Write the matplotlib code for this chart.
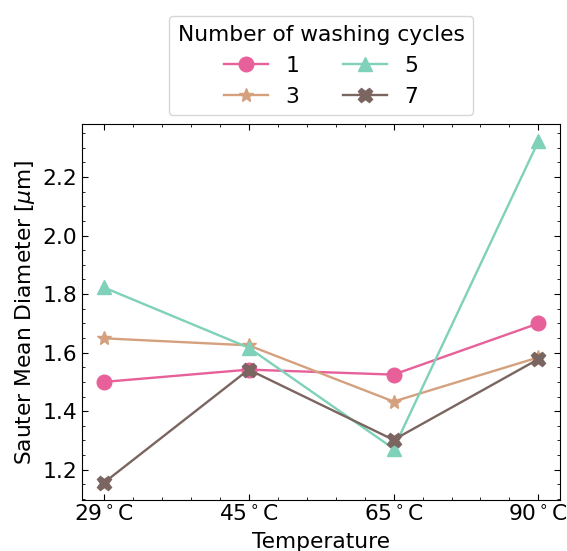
import matplotlib
matplotlib.use('Agg')
from matplotlib import pyplot as plt
from matplotlib.ticker import MultipleLocator

temps = ['29$^\\circ$C', '45$^\\circ$C', '65$^\\circ$C', '90$^\\circ$C']
cycles = ['1', '3', '5', '7']
d1 = [1.50, 1.542, 1.525, 1.70]
d3 = [1.649, 1.625, 1.433, 1.584]
d5 = [1.823, 1.617, 1.272, 2.323]
d7 = [1.155, 1.542, 1.302, 1.578]

colors = ['#e7609a', '#d4a07e', '#7fd1b9', '#7b6560']
markers = ['o', '*', '^', 'X']


def make_plot():
    plt.rcParams['font.size'] = 15.7
    fig = plt.figure(figsize=(5.67, 5.51), dpi=100)
    ax = fig.add_axes([0.1446, 0.0926, 0.8434, 0.6824])
    x = list(range(len(temps)))
    for vals, lab, c, m in zip([d1, d3, d5, d7], cycles, colors, markers):
        ax.plot(x, vals, color=c, marker=m, markersize=10.5, linewidth=1.7, label=lab)
    ax.set_xticks(x)
    ax.set_xticklabels(temps)
    ax.xaxis.set_minor_locator(MultipleLocator(0.2))
    ax.yaxis.set_major_locator(MultipleLocator(0.2))
    ax.yaxis.set_minor_locator(MultipleLocator(0.05))
    ax.tick_params(which='both', direction='in', top=True, right=True)
    ax.tick_params(which='major', length=4)
    ax.tick_params(which='minor', length=2.3)
    ax.set_xlabel('Temperature', labelpad=5)
    ax.set_ylabel('Sauter Mean Diameter [$\\mu$m]')
    ax.legend(title='Number of washing cycles', ncol=2, loc='lower center',
              bbox_to_anchor=(0.5, 1.0), title_fontsize=15.7, borderaxespad=0.4)
    fig.savefig('out.png', dpi=100)


if __name__ == "__main__":
    make_plot()
